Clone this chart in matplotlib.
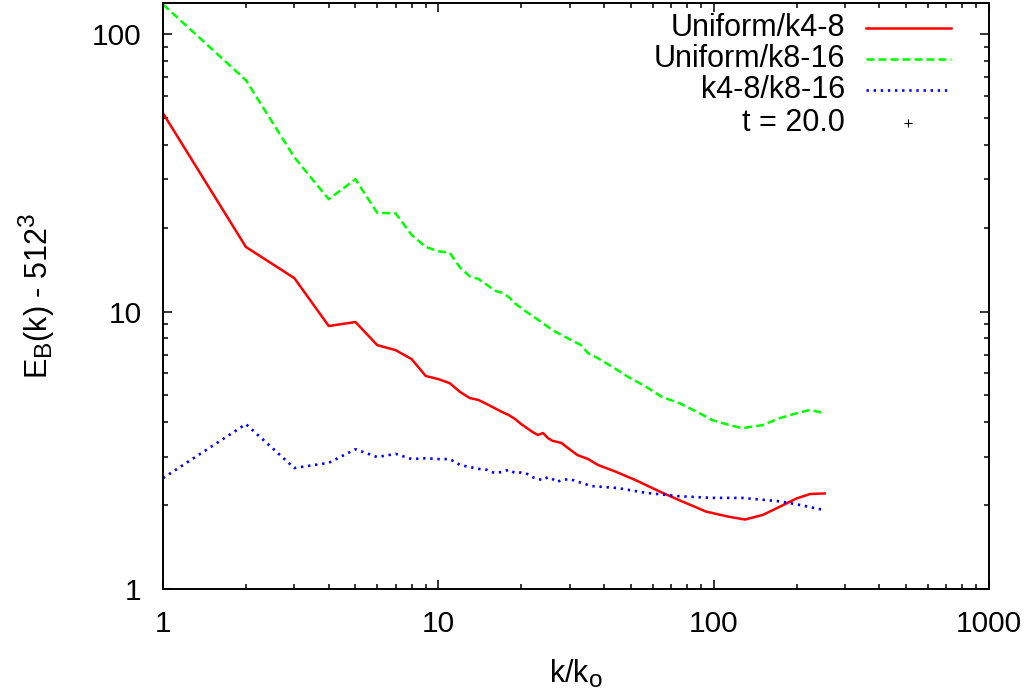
import matplotlib
matplotlib.use("Agg")
import matplotlib.pyplot as plt
from matplotlib.lines import Line2D
from matplotlib.ticker import LogLocator, NullFormatter, FixedLocator, FixedFormatter
import matplotlib._mathtext as _mt

# gnuplot-like sub/superscript scale (0.8 instead of 0.7)
_mt.SHRINK_FACTOR = 0.8

plt.rcParams['font.family'] = ['Liberation Sans', 'DejaVu Sans']
plt.rcParams['mathtext.fontset'] = 'custom'
plt.rcParams['mathtext.rm'] = 'Liberation Sans'
plt.rcParams['mathtext.it'] = 'Liberation Sans:italic'

# ---- data ----
k_red = [1, 2, 3, 4, 5, 6, 7, 8, 9, 10, 11, 12, 13, 14, 15, 16, 17, 18, 19, 20,
         21, 22, 23, 24, 25, 26, 27, 28, 29, 32, 35, 38, 44, 52, 64, 75, 94, 114,
         130, 151, 174, 200, 224, 253]
e_red = [51.9, 17.1, 13.2, 8.87, 9.17, 7.57, 7.26, 6.74, 5.86, 5.71, 5.52, 5.13,
         4.88, 4.80, 4.64, 4.49, 4.35, 4.24, 4.10, 3.93, 3.80, 3.68, 3.59, 3.65,
         3.50, 3.42, 3.39, 3.36, 3.27, 3.04, 2.94, 2.80, 2.65, 2.47, 2.24, 2.09,
         1.90, 1.82, 1.78, 1.85, 1.98, 2.12, 2.20, 2.21]

k_green = [1, 2, 3, 4, 5, 6, 7, 8, 9, 10, 11, 12, 13, 14, 15, 16, 17, 18, 19, 20,
           21, 22, 24, 26, 29, 33, 35, 38, 43, 49, 57, 65, 75, 87, 99, 114, 127,
           151, 174, 200, 224, 253]
e_green = [128.0, 68.3, 36.0, 25.4, 30.0, 22.7, 22.6, 18.9, 17.1, 16.5, 16.3, 14.4,
           13.4, 13.1, 12.5, 11.9, 11.7, 11.3, 10.7, 10.3, 9.95, 9.63, 9.08, 8.57,
           8.09, 7.57, 7.08, 6.79, 6.31, 5.81, 5.35, 4.92, 4.68, 4.35, 4.06, 3.90,
           3.80, 3.90, 4.13, 4.30, 4.42, 4.30]

k_blue = [1, 2, 3, 4, 5, 6, 7, 8, 9, 10, 11, 12, 13, 14, 15, 16, 17, 18, 19, 20,
          21, 22, 23, 24, 25, 26, 27, 28, 30, 36, 45, 57, 75, 99, 127, 174, 205,
          243, 253]
e_blue = [2.51, 3.93, 2.73, 2.85, 3.19, 2.99, 3.07, 2.94, 2.96, 2.94, 2.94, 2.80,
          2.75, 2.71, 2.69, 2.62, 2.64, 2.69, 2.62, 2.63, 2.60, 2.53, 2.49, 2.47,
          2.53, 2.49, 2.43, 2.47, 2.49, 2.35, 2.31, 2.22, 2.16, 2.13, 2.13, 2.07,
          2.01, 1.94, 1.93]

labels = ["Uniform/k4-8", "Uniform/k8-16", "k4-8/k8-16", "t = 20.0"]
x_ticks = [1, 10, 100, 1000]
x_ticklabels = ["1", "10", "100", "1000"]
y_ticks = [1, 10, 100]
y_ticklabels = ["1", "10", "100"]

# ---- figure ----
W, H = 1034, 694
fig = plt.figure(figsize=(W / 100, H / 100), dpi=100)
x0, x1, ytop, ybot = 163, 989, 3, 589
ax = fig.add_axes([x0 / W, 1 - ybot / H, (x1 - x0) / W, (ybot - ytop) / H])

styles = [
    dict(color="#ff0000", lw=1.8, ls="-"),
    dict(color="#00ff00", lw=1.8, ls=(0, (3.2, 1.6))),
    dict(color="#0000ff", lw=1.9, ls=(0, (0.9, 1.8))),
]
series = [(k_red, e_red), (k_green, e_green), (k_blue, e_blue)]
for (kk, ee), st in zip(series, styles):
    ax.plot(kk, ee, **st)

ax.set_xscale("log")
ax.set_yscale("log")
ax.set_xlim(1, 1000)
ax.set_ylim(1, 129.5)

ax.xaxis.set_major_locator(FixedLocator(x_ticks))
ax.xaxis.set_major_formatter(FixedFormatter(x_ticklabels))
ax.yaxis.set_major_locator(FixedLocator(y_ticks))
ax.yaxis.set_major_formatter(FixedFormatter(y_ticklabels))
for a in (ax.xaxis, ax.yaxis):
    a.set_minor_locator(LogLocator(base=10, subs=range(2, 10), numticks=20))
    a.set_minor_formatter(NullFormatter())

ax.tick_params(which="both", direction="in", top=True, right=True, width=1.1,
               labelsize=21.5, colors="black")
ax.tick_params(which="major", length=6.7)
ax.tick_params(which="minor", length=3.3)
ax.tick_params(axis="x", which="major", pad=15)
ax.tick_params(axis="y", which="major", pad=15.5)
for s in ax.spines.values():
    s.set_linewidth(1.4)

ax.set_xlabel("k/k$_\\mathregular{o}$", fontsize=22)
ax.set_ylabel("E$_\\mathregular{B}$(k) - 512$^\\mathregular{3}$", fontsize=22)
ax.xaxis.set_label_coords(0.5, -0.118)
ax.yaxis.set_label_coords(-0.128, 0.5)

# ---- legend (gnuplot style: right-aligned text, sample to the right) ----
def axx(px):
    return (px - x0) / (x1 - x0)

def axy(py):
    return (ybot - py) / (ybot - ytop)

rows_py = [27.5, 59, 90, 123]
for i, lab in enumerate(labels):
    yy = axy(rows_py[i])
    ax.text(axx(845), yy, lab, transform=ax.transAxes, ha="right", va="center",
            fontsize=22)
    if i < 3:
        ax.add_line(Line2D([axx(866), axx(951)], [yy, yy], transform=ax.transAxes,
                           **styles[i]))
    else:
        ax.add_line(Line2D([axx(908)], [yy], transform=ax.transAxes, marker="+",
                           color="black", ls="none", markersize=6, markeredgewidth=0.8))

fig.savefig("out.png", dpi=100)
